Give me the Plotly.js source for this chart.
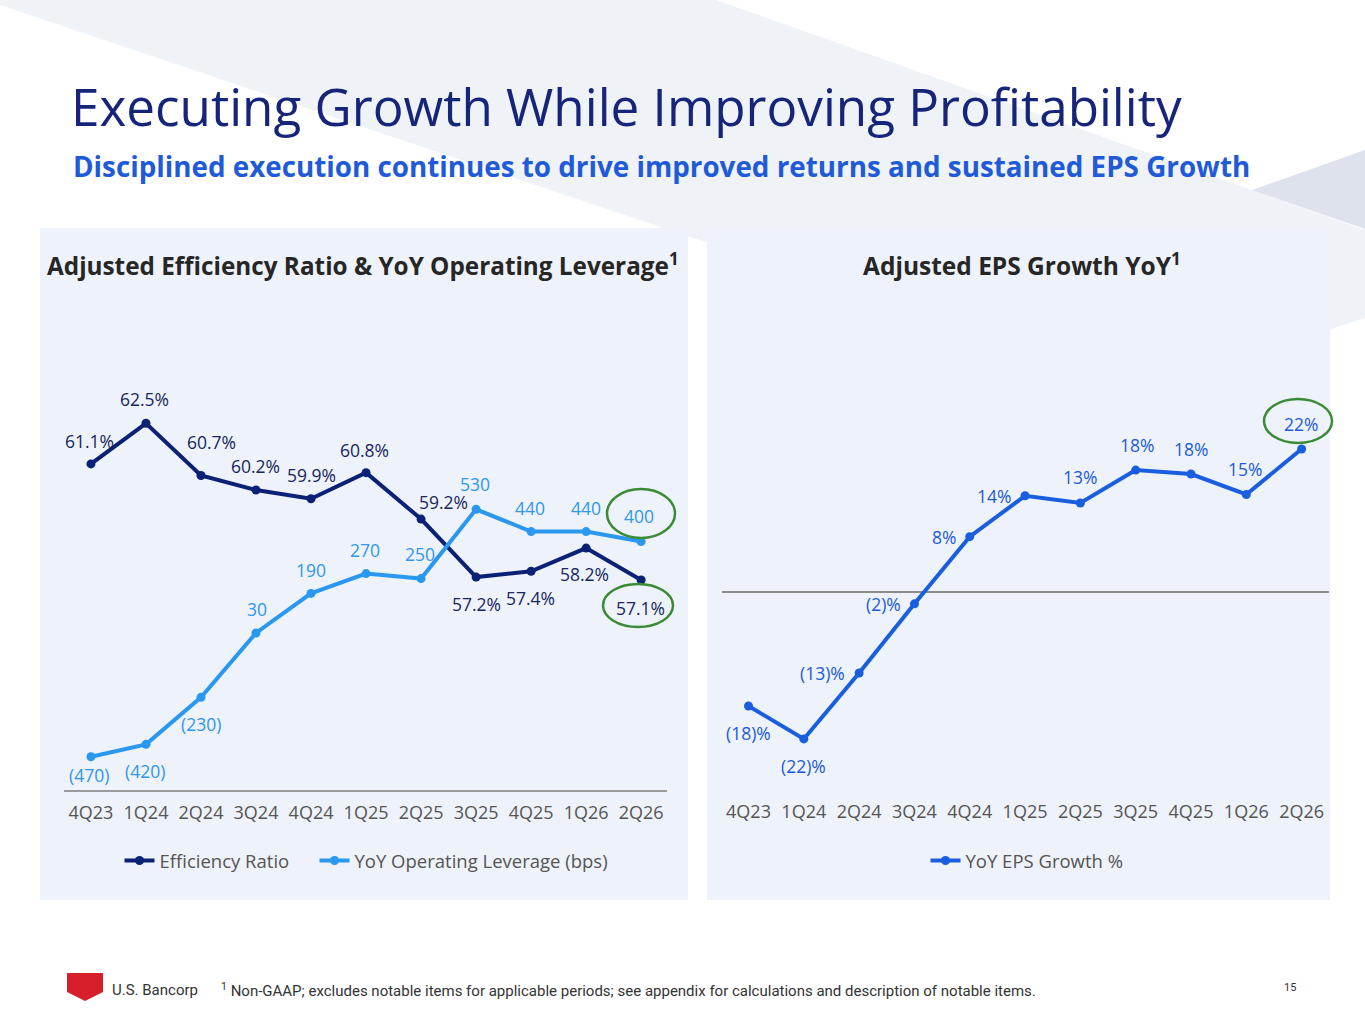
<!DOCTYPE html>
<html>
<head>
<meta charset="utf-8">
<script src="https://cdn.plot.ly/plotly-3.0.1.min.js"></script>
<style>
html,body{margin:0;padding:0;background:#ffffff;}
#chart{width:1365px;height:1024px;}
</style>
</head>
<body>
<div id="chart"></div>
<script>
// ---------------- DATA ----------------
var quarters = ["4Q23","1Q24","2Q24","3Q24","4Q24","1Q25","2Q25","3Q25","4Q25","1Q26","2Q26"];
var efficiencyRatio = [61.1, 62.5, 60.7, 60.2, 59.9, 60.8, 59.2, 57.2, 57.4, 58.2, 57.1];
var efficiencyLabels = ["61.1%","62.5%","60.7%","60.2%","59.9%","60.8%","59.2%","57.2%","57.4%","58.2%","57.1%"];
var operatingLeverage = [-470, -420, -230, 30, 190, 270, 250, 530, 440, 440, 400];
var leverageLabels = ["(470)","(420)","(230)","30","190","270","250","530","440","440","400"];
var epsGrowth = [-17.3, -22.3, -12.3, -1.8, 8.4, 14.6, 13.5, 18.5, 17.9, 14.8, 21.7];
var epsLabels = ["(18)%","(22)%","(13)%","(2)%","8%","14%","13%","18%","18%","15%","22%"];

// ---------------- STYLE ----------------
var W = 1365, H = 1024;
function px(x){ return x / W; }
function py(y){ return 1 - y / H; }
var FONT = "'Open Sans', Lato, sans-serif";
var cNavy = "#0b2175", cLight = "#2b98f0", cEps = "#1a5ee0";
var cNavyTxt = "#17275f", cLightTxt = "#2e97ee", cEpsTxt = "#1c5bd8";

// label offsets in screen pixels (dx right, dy down)
var effOff = [[-1,-23],[-1,-24],[10,-34],[-1,-24],[0,-24],[-2,-23],[22,-17],[0,27],[-1,27],[-2,26],[-1,28]];
var levOff = [[-2,18],[-1,27],[0,27],[1,-24],[0,-23],[-1,-24],[-1,-25],[-1,-25],[-1,-24],[0,-24],[-2,-25]];
var epsOff = [[0,27],[0,27],[-37,0],[-31,0],[-26,0],[-31,0],[0,-26],[1,-25],[0,-25],[-1,-25],[-1,-25]];

var traces = [
  {x: quarters, y: efficiencyRatio, xaxis:"x", yaxis:"y", name:"Efficiency Ratio", type:"scatter",
   mode:"lines+markers", line:{color:cNavy, width:4}, marker:{color:cNavy, size:9}, legend:"legend", hoverinfo:"skip"},
  {x: quarters, y: operatingLeverage, xaxis:"x", yaxis:"y2", name:"YoY Operating Leverage (bps)", type:"scatter",
   mode:"lines+markers", line:{color:cLight, width:4}, marker:{color:cLight, size:9}, legend:"legend3", hoverinfo:"skip"},
  {x: quarters, y: epsGrowth, xaxis:"x2", yaxis:"y3", name:"YoY EPS Growth %", type:"scatter",
   mode:"lines+markers", line:{color:cEps, width:4}, marker:{color:cEps, size:9}, legend:"legend2", hoverinfo:"skip"}
];

var annotations = [];
function addLabels(vals, labels, offs, xref, yref, color){
  for (var i = 0; i < vals.length; i++){
    annotations.push({x: quarters[i], y: vals[i], xref: xref, yref: yref, text: labels[i],
      showarrow:false, xshift: offs[i][0], yshift: -offs[i][1],
      font:{family:FONT, size:17.5, color:color}});
  }
}
addLabels(efficiencyRatio, efficiencyLabels, effOff, "x", "y", cNavyTxt);
addLabels(operatingLeverage, leverageLabels, levOff, "x", "y2", cLightTxt);
addLabels(epsGrowth, epsLabels, epsOff, "x2", "y3", cEpsTxt);

// page texts
annotations.push({xref:"paper", yref:"paper", x:px(69), y:py(106), xanchor:"left", yanchor:"middle", showarrow:false,
  text:"Executing Growth While Improving Profitability", font:{family:FONT, size:51.2, color:"#16257a"}});
annotations.push({xref:"paper", yref:"paper", x:px(71), y:py(166), xanchor:"left", yanchor:"middle", showarrow:false,
  text:"<b>Disciplined execution continues to drive improved returns and sustained EPS Growth</b>", font:{family:FONT, size:27.8, color:"#1f5ad8"}});
annotations.push({xref:"paper", yref:"paper", x:px(45), y:py(264), xanchor:"left", yanchor:"middle", showarrow:false,
  text:"<b>Adjusted Efficiency Ratio & YoY Operating Leverage<sup>1</sup></b>", font:{family:FONT, size:24.3, color:"#262626"}});
annotations.push({xref:"paper", yref:"paper", x:px(1022), y:py(264), xanchor:"center", yanchor:"middle", showarrow:false,
  text:"<b>Adjusted EPS Growth YoY<sup>1</sup></b>", font:{family:FONT, size:24.5, color:"#262626"}});
annotations.push({xref:"paper", yref:"paper", x:px(110), y:py(990), xanchor:"left", yanchor:"middle", showarrow:false,
  text:"U.S. Bancorp", font:{family:"Roboto, sans-serif", size:15, color:"#333333"}});
annotations.push({xref:"paper", yref:"paper", x:px(219), y:py(990), xanchor:"left", yanchor:"middle", showarrow:false,
  text:"<sup>1</sup> Non-GAAP; excludes notable items for applicable periods; see appendix for calculations and description of notable items.",
  font:{family:"Roboto, sans-serif", size:15, color:"#333333"}});
annotations.push({xref:"paper", yref:"paper", x:px(1290), y:py(987), xanchor:"center", yanchor:"middle", showarrow:false,
  text:"15", font:{family:"Roboto, sans-serif", size:11, color:"#333333"}});

function P(pts){
  var s = "";
  for (var i = 0; i < pts.length; i++){ s += (i ? " L " : "M ") + px(pts[i][0]).toFixed(5) + " " + py(pts[i][1]).toFixed(5); }
  return s + " Z";
}
function ellipse(x0, x1, y0, y1){
  return {type:"circle", xref:"paper", yref:"paper", x0:px(x0), x1:px(x1), y0:py(y1), y1:py(y0),
    line:{color:"#3b8a36", width:2.5}};
}

var shapes = [
  // background chevron band
  {type:"path", xref:"paper", yref:"paper", layer:"below", line:{width:0}, fillcolor:"#eff2f7",
   path:P([[0,0],[716,0],[1365,230],[1365,318],[1143,389],[0,5]])},
  // darker triangle at right
  {type:"path", xref:"paper", yref:"paper", layer:"below", line:{width:0}, fillcolor:"#dee2ec",
   path:P([[1252,190],[1365,150],[1365,229]])},
  // panels
  {type:"rect", xref:"paper", yref:"paper", layer:"below", line:{width:0}, fillcolor:"#eef2fa",
   x0:px(40), x1:px(688), y0:py(900), y1:py(228)},
  {type:"rect", xref:"paper", yref:"paper", layer:"below", line:{width:0}, fillcolor:"#eef2fa",
   x0:px(707), x1:px(1330), y0:py(900), y1:py(228)},
  // logo
  {type:"path", xref:"paper", yref:"paper", line:{width:0}, fillcolor:"#d71f2b",
   path:P([[67,973],[103,973],[103,992],[85,1001],[67,992]])},
  // highlight ellipses
  ellipse(607, 675, 489, 538),
  ellipse(603, 673, 584, 627),
  ellipse(1264, 1332, 399, 443)
];

var tickFont = {family:FONT, size:18, color:"#555555"};
var legFont = {family:FONT, size:18.5, color:"#555555"};
var layout = {
  width: W, height: H,
  margin:{l:0, r:0, t:0, b:0},
  paper_bgcolor:"#ffffff", plot_bgcolor:"rgba(0,0,0,0)",
  showlegend:true,
  xaxis:{domain:[px(64), px(667)], anchor:"y", type:"category", range:[-0.49, 10.47],
    showline:true, linecolor:"#9b9b9b", linewidth:2, showgrid:false, zeroline:false,
    ticks:"outside", ticklen:5, tickcolor:"rgba(0,0,0,0)", tickfont:tickFont, fixedrange:true},
  yaxis:{domain:[py(790), py(380)], range:[49.864, 63.992], visible:false, fixedrange:true},
  yaxis2:{overlaying:"y", range:[-604.6, 1052.6], visible:false, fixedrange:true},
  xaxis2:{domain:[px(722), px(1329)], anchor:"y3", type:"category", range:[-0.479, 10.495],
    showline:false, showgrid:false, zeroline:false,
    ticks:"outside", ticklen:5, tickcolor:"rgba(0,0,0,0)", tickfont:tickFont, fixedrange:true},
  yaxis3:{domain:[py(790), py(380)], anchor:"x2", range:[-30.05, 32.17], showgrid:false,
    zeroline:true, zerolinecolor:"#8c8c8c", zerolinewidth:2, showticklabels:false, ticks:"", fixedrange:true},
  legend:{orientation:"h", x:px(207), y:py(861), xanchor:"center", yanchor:"middle",
    bgcolor:"rgba(0,0,0,0)", font:legFont, itemwidth:30},
  legend3:{orientation:"h", x:px(464), y:py(861), xanchor:"center", yanchor:"middle",
    bgcolor:"rgba(0,0,0,0)", font:legFont, itemwidth:30},
  legend2:{orientation:"h", x:px(1027), y:py(861), xanchor:"center", yanchor:"middle",
    bgcolor:"rgba(0,0,0,0)", font:legFont, itemwidth:30},
  annotations: annotations,
  shapes: shapes
};

Plotly.newPlot("chart", traces, layout, {displayModeBar:false, staticPlot:true});
</script>
</body>
</html>
